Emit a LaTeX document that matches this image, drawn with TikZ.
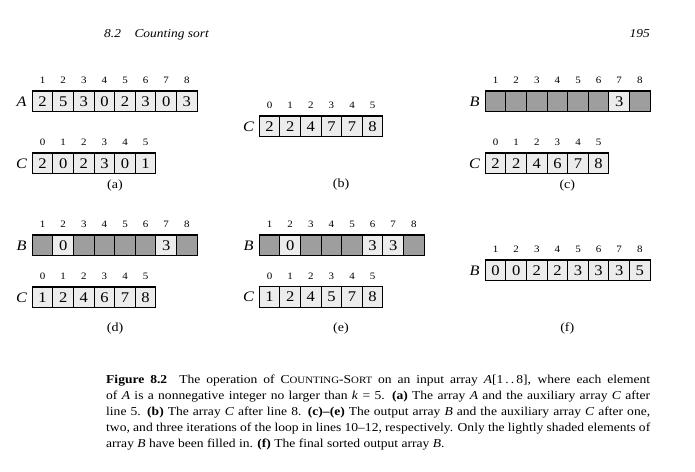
\documentclass[tikz,border=0pt]{standalone}
\usepackage{fontspec}
\setmainfont{Liberation Serif}[FakeStretch=1.12]
\definecolor{L}{gray}{0.925}
\definecolor{D}{gray}{0.62}
\tikzset{
  cell/.style={draw, line width=1.1pt, minimum width=20.6pt, minimum height=20.6pt, inner sep=0pt, font=\fontsize{14.8}{14.8}\selectfont},
  idx/.style={inner sep=0pt, font=\fontsize{9.8}{9.8}\selectfont},
  lab/.style={inner sep=0pt, font=\fontsize{14.5}{14.5}\selectfont\itshape},
  sub/.style={inner sep=0pt, font=\fontsize{12.5}{12.5}\selectfont},
  head/.style={inner sep=0pt, font=\fontsize{12}{12}\selectfont\itshape},
  capline/.style={inner sep=0pt, anchor=base west, font=\fontsize{12.1}{16}\selectfont},
}
\newcommand\fsc[1]{{\fontsize{9.7}{9.7}\selectfont #1}}
\newcommand\arr[6]{% #1 name, #2 label, #3 x-left, #4 y-top, #5 first index, #6 list value/colour
  \node[lab] (#1-lab) at (#3-10.8, #4+10.3) {#2};
  \foreach \v/\s [count=\k from 0] in {#6}{
    \pgfmathsetmacro\cx{#3+(\k+0.5)*20.6}
    \pgfmathtruncatemacro\ix{#5+\k}
    \node[cell, fill=\s] (#1-\k) at (\cx, #4+10.3) {\v};
    \node[idx] (#1-i\k) at (\cx, #4-10.3) {\ix};
  }}
\begin{document}
\begin{tikzpicture}[x=1pt, y=-1pt]
\useasboundingbox (0,0) rectangle (695,471);
% header
\node[head, anchor=base west] (h1) at (104,37.3) {8.2};
\node[head, anchor=base west] (h2) at (134.3,37.3) {Counting sort};
\node[head, anchor=base east] (h3) at (650,37.5) {195};
% (a)
\arr{aA}{A}{32.3}{91}{1}{2/L,5/L,3/L,0/L,2/L,3/L,0/L,3/L}
\arr{aC}{C}{32.3}{153}{0}{2/L,0/L,2/L,3/L,0/L,1/L}
\node[sub] (sa) at (115,185) {(a)};
% (b)
\arr{bC}{C}{259.3}{116}{0}{2/L,2/L,4/L,7/L,7/L,8/L}
\node[sub] (sb) at (341,184.5) {(b)};
% (c)
\arr{cB}{B}{485.3}{91}{1}{{}/D,{}/D,{}/D,{}/D,{}/D,{}/D,3/L,{}/D}
\arr{cC}{C}{485.3}{153}{0}{2/L,2/L,4/L,6/L,7/L,8/L}
\node[sub] (sc) at (567.3,185) {(c)};
% (d)
\arr{dB}{B}{32.3}{235}{1}{{}/D,0/L,{}/D,{}/D,{}/D,{}/D,3/L,{}/D}
\arr{dC}{C}{32.3}{287}{0}{1/L,2/L,4/L,6/L,7/L,8/L}
\node[sub] (sd) at (115,328.3) {(d)};
% (e)
\arr{eB}{B}{259.3}{235}{1}{{}/D,0/L,{}/D,{}/D,{}/D,3/L,3/L,{}/D}
\arr{eC}{C}{259.3}{286.5}{0}{1/L,2/L,4/L,5/L,7/L,8/L}
\node[sub] (se) at (341,328.3) {(e)};
% (f)
\arr{fB}{B}{485.3}{260}{1}{0/L,0/L,2/L,2/L,3/L,3/L,3/L,5/L}
\node[sub] (sf) at (567.3,328.3) {(f)};
% caption
\node[capline] (cap1) at (106,383.3) {\makebox[544pt][s]{\textbf{Figure 8.2}\hspace{1em}The operation of C\fsc{OUNTING}-S\fsc{ORT} on an input array \textit{A}[1\,.\,.\,8], where each element}};
\node[capline] (cap2) at (106,399.3) {\makebox[544pt][s]{of \textit{A} is a nonnegative integer no larger than \textit{k} = 5. \textbf{(a)} The array \textit{A} and the auxiliary array \textit{C} after}};
\node[capline] (cap3) at (106,415.3) {\makebox[544pt][s]{line 5. \textbf{(b)} The array \textit{C} after line 8. \textbf{(c)--(e)} The output array \textit{B} and the auxiliary array \textit{C} after one,}};
\node[capline] (cap4) at (106,431.3) {\makebox[544pt][s]{two, and three iterations of the loop in lines 10--12, respectively. Only the lightly shaded elements of}};
\node[capline] (cap5) at (106,447.3) {array \textit{B} have been filled in. \textbf{(f)} The final sorted output array \textit{B}.};
\end{tikzpicture}
\end{document}
